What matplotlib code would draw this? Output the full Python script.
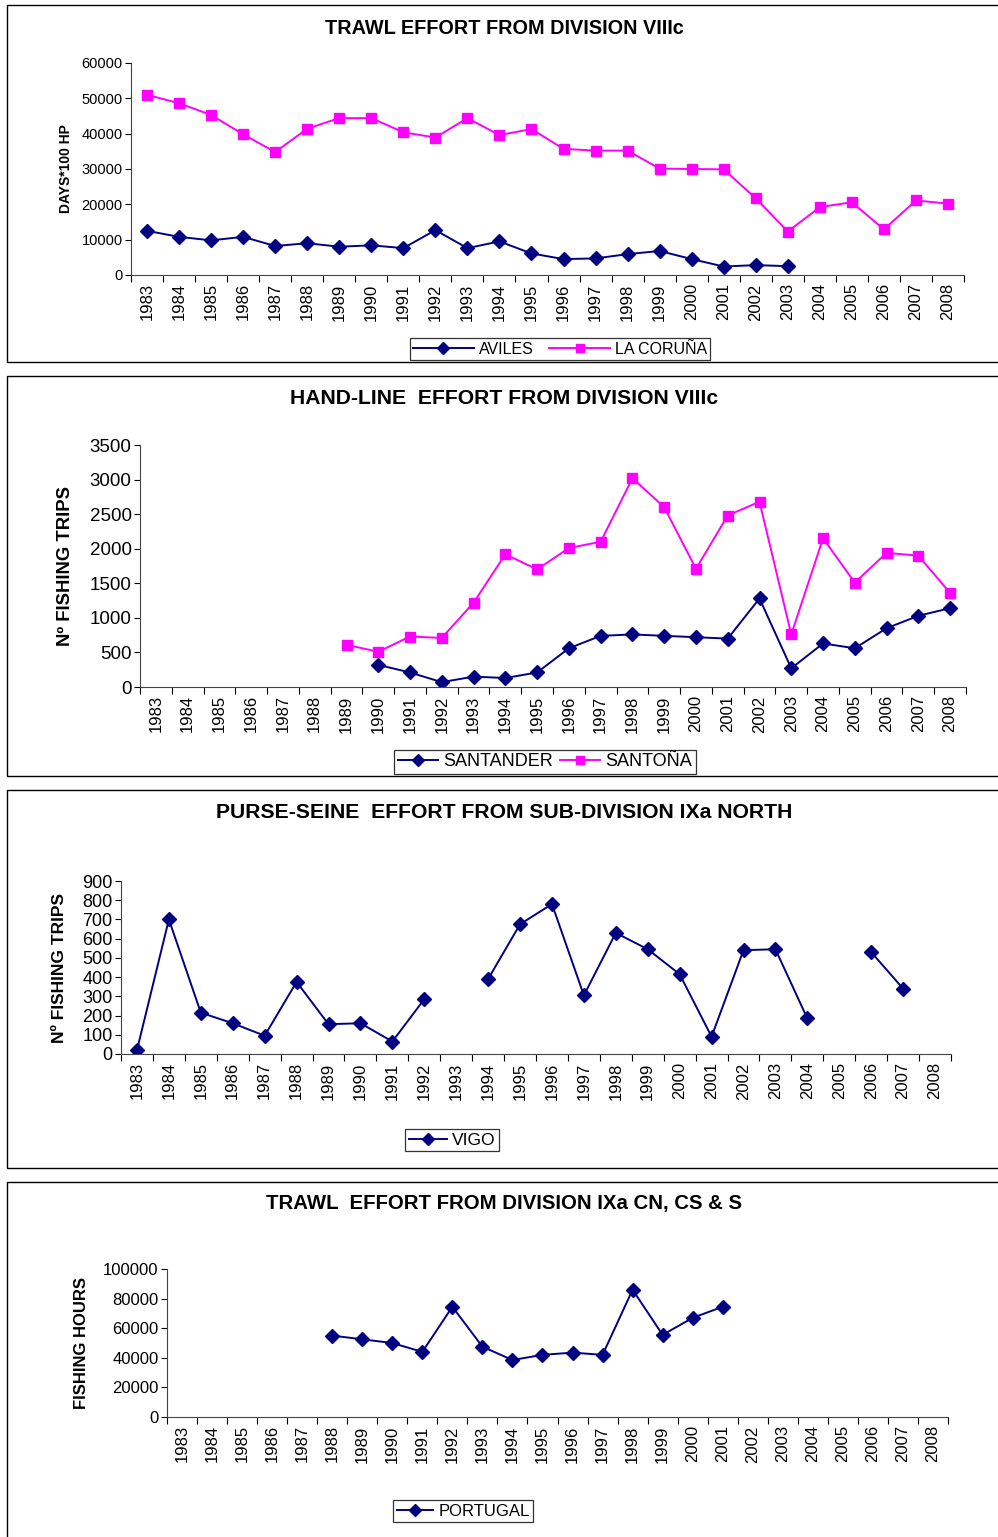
import numpy as np
import matplotlib
matplotlib.use("Agg")
import matplotlib.pyplot as plt
from matplotlib.patches import Rectangle

plt.rcParams['font.family'] = ['Liberation Sans', 'DejaVu Sans']

years = [str(y) for y in range(1983, 2009)]
nan = np.nan

aviles = [12500, 10800, 9800, 10800, 8200, 9000, 8000, 8400, 7600, 12700, 7600, 9500,
          6100, 4500, 4700, 5900, 6800, 4500, 2400, 2800, 2500, nan, nan, nan, nan, nan]
la_coruna = [51000, 48600, 45300, 39800, 34800, 41400, 44400, 44400, 40400, 38900, 44400,
             39600, 41300, 35700, 35200, 35200, 30100, 30000, 29900, 21700, 12300, 19200,
             20600, 12900, 21100, 20200]

santander = [nan] * 7 + [320, 210, 70, 150, 130, 210, 560, 740, 760, 740, 720, 700, 1280,
                         270, 630, 560, 850, 1030, 1140]
santona = [nan] * 6 + [610, 510, 730, 710, 1220, 1920, 1700, 2010, 2100, 3020, 2600, 1710,
                       2480, 2680, 760, 2150, 1510, 1940, 1900, 1360]

vigo = [20, 700, 215, 160, 95, 375, 155, 160, 65, 285, nan, 390, 675, 780, 305, 630, 545,
        415, 90, 540, 545, 185, nan, 530, 340, nan]

portugal = [nan] * 5 + [55000, 52500, 50000, 44000, 74500, 47500, 38500, 42000, 43500,
                        42000, 86000, 55500, 67000, 74500] + [nan] * 7

W, H = 998, 1537
fig = plt.figure(figsize=(W / 100, H / 100), dpi=100)

NAVY = '#000080'
MAG = '#FF00FF'


def rect(l, r, t, b):
    return [l / W, 1 - b / H, (r - l) / W, (b - t) / H]


def frame(t, b):
    fig.add_artist(Rectangle((7 / W, 1 - b / H), (W + 5 - 7) / W, (b - t) / H,
                             transform=fig.transFigure, fill=False, edgecolor='black',
                             linewidth=1.0, clip_on=False))


def make_ax(box, ylim, yticks, ytfs, xtfs):
    ax = fig.add_axes(rect(*box))
    x = np.arange(len(years))
    ax.set_xlim(-0.5, len(years) - 0.5)
    ax.set_ylim(*ylim)
    ax.set_yticks(yticks)
    ax.set_yticklabels([str(v) for v in yticks], fontsize=ytfs)
    ax.set_xticks(x)
    ax.set_xticklabels(years, rotation=90, fontsize=xtfs)
    ax.tick_params(axis='x', which='major', length=0, pad=6)
    ax.set_xticks(np.arange(-0.5, len(years) + 0.5, 1), minor=True)
    ax.tick_params(axis='x', which='minor', length=5, direction='out', width=0.8)
    ax.tick_params(axis='y', length=4, direction='out', width=0.8, pad=2)
    for s in ['top', 'right']:
        ax.spines[s].set_visible(False)
    for s in ['left', 'bottom']:
        ax.spines[s].set_linewidth(0.8)
        ax.spines[s].set_color('#444444')
    ax.patch.set_alpha(0)
    return ax, x


def title(txt, y, fs):
    fig.text(504 / W, 1 - y / H, txt, ha='center', va='center', fontsize=fs,
             fontweight='bold')


def ylab(txt, x, yc, fs):
    fig.text(x / W, 1 - yc / H, txt, ha='center', va='center', rotation=90,
             fontsize=fs, fontweight='bold')


def legend(ax, cx, cy, fs, **kw):
    lg = ax.legend(loc='center', bbox_to_anchor=(cx / W, 1 - cy / H),
                   bbox_transform=fig.transFigure, fontsize=fs, frameon=True,
                   fancybox=False, edgecolor='black', borderpad=0.2,
                   handletextpad=0.3, borderaxespad=0, markerscale=0.75, **kw)
    lg.get_frame().set_linewidth(0.9)
    return lg


dkw = dict(color=NAVY, marker='D', markersize=7.5, linewidth=1.4)
skw = dict(color=MAG, marker='s', markersize=7.5, linewidth=1.4)

# Panel 1
frame(5, 362)
ax, x = make_ax((131, 964, 63, 275), (0, 60000), list(range(0, 60001, 10000)), 10.5, 12)
ax.plot(x, aviles, label='AVILES', **dkw)
ax.plot(x, la_coruna, label='LA CORUÑA', **skw)
title('TRAWL EFFORT FROM DIVISION VIIIc', 28, 14.3)
ylab('DAYS*100 HP', 66, 169, 10)
legend(ax, 560, 349, 11.5, ncol=2, handlelength=3.8, columnspacing=1.0)

# Panel 2
frame(376, 776)
ax, x = make_ax((140, 966, 445, 687), (0, 3500), list(range(0, 3501, 500)), 13.5, 12)
ax.plot(x, santander, label='SANTANDER', **dkw)
ax.plot(x, santona, label='SANTOÑA', **skw)
title('HAND-LINE  EFFORT FROM DIVISION VIIIc', 399, 15.2)
ylab('Nº FISHING TRIPS', 65, 566, 13.3)
legend(ax, 545, 762, 13, ncol=2, handlelength=2.2, columnspacing=0.4)

# Panel 3
frame(790, 1168)
ax, x = make_ax((121, 951, 881, 1054), (0, 900), list(range(0, 901, 100)), 13, 12)
ax.plot(x, vigo, label='VIGO', **dkw)
title('PURSE-SEINE  EFFORT FROM SUB-DIVISION IXa NORTH', 813, 15.2)
ylab('Nº FISHING TRIPS', 60, 968, 12.5)
legend(ax, 452, 1140, 12.5, handlelength=2.2)

# Panel 4
frame(1182, 1545)
ax, x = make_ax((167, 948, 1269, 1417), (0, 100000), list(range(0, 100001, 20000)), 12, 12)
ax.plot(x, portugal, label='PORTUGAL', **dkw)
title('TRAWL  EFFORT FROM DIVISION IXa CN, CS & S', 1203, 14.7)
ylab('FISHING HOURS', 81, 1343, 12)
legend(ax, 463, 1511, 12, handlelength=2.2)

fig.savefig('out.png', dpi=100)
